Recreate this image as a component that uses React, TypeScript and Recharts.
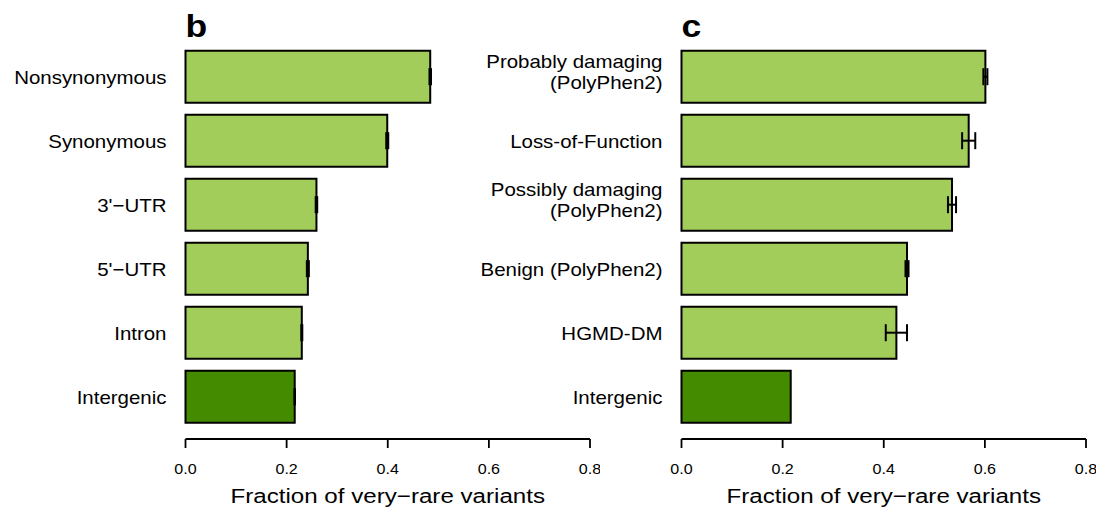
import React from 'react';
import { BarChart, Bar, XAxis, YAxis, ErrorBar, Cell, Label } from 'recharts';

// panel b: variant annotation classes
const panelBCategories = ['Nonsynonymous', 'Synonymous', "3'\u2212UTR", "5'\u2212UTR", 'Intron', 'Intergenic'];
const panelBValues = [0.484, 0.399, 0.259, 0.242, 0.23, 0.216];
const panelBErrors = [0.0015, 0.002, 0.0015, 0.002, 0.001, 0.0005];

// panel c: functional / disease classes
const panelCCategories = [
    'Probably damaging\n(PolyPhen2)',
    'Loss-of-Function',
    'Possibly damaging\n(PolyPhen2)',
    'Benign (PolyPhen2)',
    'HGMD-DM',
    'Intergenic',
];
const panelCValues = [0.601, 0.568, 0.535, 0.446, 0.425, 0.216];
const panelCErrors = [0.004, 0.013, 0.008, 0.003, 0.021, 0];

const xTicks = [0, 0.2, 0.4, 0.6, 0.8];

const LIGHT = '#A2CD5A';
const DARK = '#458B00';
const FONT = '"Liberation Sans", Arial, Helvetica, sans-serif';

const PLOT_W = 404.5;
const TOP = 44.7;
const AXIS_Y = 439;
const CHART_H = 516;

type Row = { name: string; value: number; err: number };

const buildRows = (names: string[], values: number[], errors: number[]): Row[] =>
    names.map((name, i) => ({ name, value: values[i], err: errors[i] }));

// text is drawn a little wider than tall, like the original figure
const Stretched = ({ x, y, sx, anchor, size, weight, children }: any) => (
    <text
        transform={`translate(${x},${y}) scale(${sx},1)`}
        textAnchor={anchor}
        fontSize={size}
        fontWeight={weight || 'normal'}
        fontFamily={FONT}
        fill="#000"
    >
        {children}
    </text>
);

const Panel = ({ letter, rows, left, plotLeft }: { letter: string; rows: Row[]; left: number; plotLeft: number }) => {
    const width = plotLeft + PLOT_W + 10;
    const labelX = plotLeft - 19;

    const renderCategory = ({ y, payload }: any) => {
        const lines = String(payload.value).split('\n');
        const offsets = lines.length === 1 ? [7.5] : [-8.5, 12.5];
        return (
            <g>
                {lines.map((line, i) => (
                    <Stretched key={i} x={labelX} y={y + offsets[i]} sx={1.1} anchor="end" size={18.6}>
                        {line}
                    </Stretched>
                ))}
            </g>
        );
    };

    const renderTick = ({ x, payload }: any) => (
        <g>
            <Stretched x={x} y={473.5} sx={1.11} anchor="middle" size={14.5}>
                {Number(payload.value).toFixed(1)}
            </Stretched>
        </g>
    );

    return (
        <div style={{ position: 'absolute', left, top: 0 }}>
            <BarChart
                width={width}
                height={CHART_H}
                data={rows}
                layout="vertical"
                margin={{ top: TOP, right: 10, bottom: 0, left: 0 }}
            >
                <XAxis
                    type="number"
                    domain={[0, 0.8]}
                    ticks={xTicks}
                    height={CHART_H - AXIS_Y}
                    axisLine={{ stroke: '#000', strokeWidth: 1.8 }}
                    tickLine={{ stroke: '#000', strokeWidth: 1.8 }}
                    tickSize={9}
                    tick={renderTick}
                    interval={0}
                >
                    <Label
                        content={() => (
                            <Stretched x={plotLeft + PLOT_W / 2} y={503} sx={1.15} anchor="middle" size={21}>
                                Fraction of very{'\u2212'}rare variants
                            </Stretched>
                        )}
                    />
                </XAxis>
                <YAxis
                    type="category"
                    dataKey="name"
                    width={plotLeft}
                    axisLine={false}
                    tickLine={false}
                    tick={renderCategory}
                    interval={0}
                    padding={{ top: 0, bottom: 10.3 }}
                >
                    <Label
                        content={() => (
                            <Stretched x={plotLeft} y={37} sx={1.11} anchor="start" size={32} weight="bold">
                                {letter}
                            </Stretched>
                        )}
                    />
                </YAxis>
                <Bar dataKey="value" barSize={52} stroke="#000" strokeWidth={2} isAnimationActive={false}>
                    {rows.map((r, i) => (
                        <Cell key={i} fill={r.name === 'Intergenic' ? DARK : LIGHT} />
                    ))}
                    {/* cap half-length: caps are about 17px tall */}
                    <ErrorBar
                        dataKey="err"
                        direction="x"
                        width={8.5}
                        stroke="#000"
                        strokeWidth={2}
                        isAnimationActive={false}
                    />
                </Bar>
            </BarChart>
        </div>
    );
};

const App = () => {
    const rowsB = buildRows(panelBCategories, panelBValues, panelBErrors);
    const rowsC = buildRows(panelCCategories, panelCValues, panelCErrors);
    return (
        <div style={{ position: 'absolute', left: 0, top: 0, width: 1108, height: 516, background: '#fff' }}>
            <Panel letter="b" rows={rowsB} left={0} plotLeft={185.5} />
            <Panel letter="c" rows={rowsC} left={480} plotLeft={201.5} />
        </div>
    );
};

export default App;
